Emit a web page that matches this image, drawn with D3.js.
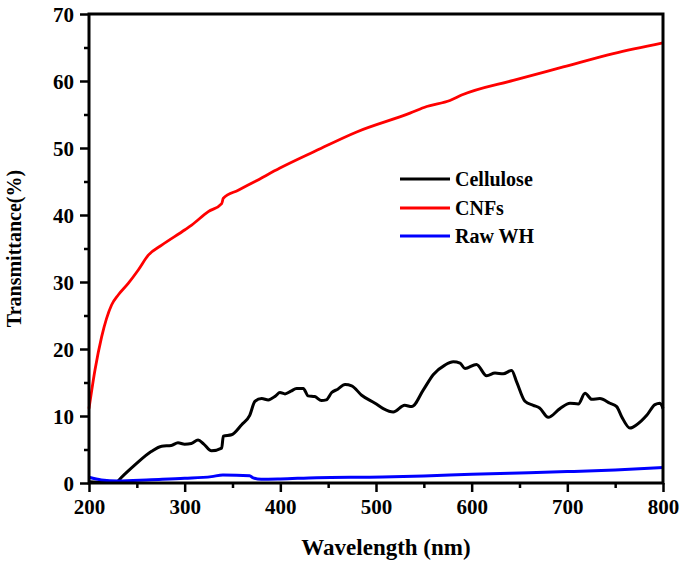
<!DOCTYPE html>
<html>
<head>
<meta charset="utf-8">
<script src="https://cdn.jsdelivr.net/npm/d3@7/dist/d3.min.js"></script>
<style>
  html, body { margin: 0; padding: 0; background: #fff; }
  svg text { font-family: "Liberation Serif", "Times New Roman", serif; font-weight: bold; }
</style>
</head>
<body>
<svg id="chart" width="685" height="561"></svg>
<script>
// ---- data ----
const seriesNames = ["Cellulose", "CNFs", "Raw WH"];
const seriesColors = ["#000000", "#ff0000", "#0000ff"];

const celluloseWl = [200, 215, 228, 235, 248, 265, 276, 286, 293, 300, 307, 314, 320, 328, 338.7, 340.4, 349, 359.6, 368, 373.5, 380.5, 387.4, 395, 399.6, 404.9, 411, 417, 424, 429, 436, 443, 448, 453.7, 460, 467.6, 474.6, 485, 499, 507.6, 518, 530, 537.3, 549.5, 560, 572, 580.8, 587.8, 593, 605, 615.7, 624.4, 633, 641.8, 647, 655.7, 664.4, 671, 680, 692.3, 702.8, 711.5, 718.5, 725.5, 734, 744.6, 751.6, 756.8, 765.5, 772.5, 783, 791.6, 796.8, 800];
const celluloseT  = [0.2, 0.1, 0.1, 1.0, 2.7, 4.7, 5.5, 5.6, 6.0, 5.8, 5.9, 6.4, 5.8, 4.8, 5.2, 7.0, 7.2, 8.7, 10.1, 12.2, 12.6, 12.4, 13.0, 13.5, 13.3, 13.7, 14.1, 14.1, 13.0, 12.9, 12.3, 12.4, 13.5, 14.0, 14.7, 14.5, 13.1, 11.9, 11.1, 10.6, 11.6, 11.4, 13.9, 16.2, 17.6, 18.1, 17.9, 17.1, 17.7, 16.0, 16.4, 16.3, 16.8, 15.1, 12.2, 11.6, 11.2, 9.8, 11.1, 11.9, 11.8, 13.4, 12.5, 12.6, 11.9, 11.4, 9.9, 8.2, 8.7, 10.1, 11.7, 11.9, 11.1];

const cnfWl = [200, 206.3, 213.2, 223.7, 230.7, 241, 251.5, 262, 276, 300.3, 307.3, 324.7, 338.7, 340.4, 356, 373.5, 399.6, 434.5, 479.8, 535.5, 553, 577.3, 589.5, 643.5, 695.8, 748, 800];
const cnfT  = [11.1, 16.9, 21.8, 26.6, 28.1, 29.8, 31.8, 34.0, 35.5, 37.8, 38.5, 40.5, 41.7, 42.5, 43.7, 45.0, 47.0, 49.4, 52.4, 55.2, 56.2, 57.1, 57.9, 60.1, 62.1, 64.1, 65.7];

const rawWl = [200, 213, 230, 265, 300, 328, 340, 368, 371, 380, 400, 438, 507, 550, 600, 650, 700, 750, 800];
const rawT  = [0.85, 0.45, 0.3, 0.5, 0.7, 0.95, 1.2, 1.1, 0.8, 0.55, 0.6, 0.8, 0.9, 1.05, 1.3, 1.5, 1.7, 1.95, 2.3];

const xTicks = [200, 300, 400, 500, 600, 700, 800];
const xMinor = [250, 350, 450, 550, 650, 750];
const yTicks = [0, 10, 20, 30, 40, 50, 60, 70];
const yMinor = [5, 15, 25, 35, 45, 55, 65];

const xLabel = "Wavelength (nm)";
const yLabel = "Transmittance(%)";

// ---- layout ----
const W = 685, H = 561;
const margin = { left: 89, top: 14, right: 22, bottom: 78 };
const svg = d3.select("#chart");

const x = d3.scaleLinear().domain([200, 800]).range([margin.left, W - margin.right]);
const y = d3.scaleLinear().domain([0, 70]).range([H - margin.bottom, margin.top]);

const series = [
  { name: seriesNames[0], color: seriesColors[0], width: 3, pts: celluloseWl.map((d, i) => [d, celluloseT[i]]) },
  { name: seriesNames[1], color: seriesColors[1], width: 2.8, pts: cnfWl.map((d, i) => [d, cnfT[i]]) },
  { name: seriesNames[2], color: seriesColors[2], width: 3, pts: rawWl.map((d, i) => [d, rawT[i]]) }
];

const lineGen = d3.line().x(d => x(d[0])).y(d => y(d[1])).curve(d3.curveMonotoneX);

const plot = svg.append("g");
series.forEach(s => {
  plot.append("path")
    .attr("d", lineGen(s.pts))
    .attr("fill", "none")
    .attr("stroke", s.color)
    .attr("stroke-width", s.width)
    .attr("stroke-linejoin", "round");
});

// ---- axes ----
const axisW = 3;
const xAxis = d3.axisBottom(x).tickValues(xTicks).tickSize(9).tickSizeOuter(0).tickPadding(6);
const xAxisMinor = d3.axisBottom(x).tickValues(xMinor).tickSize(5).tickSizeOuter(0).tickFormat("");
const yAxis = d3.axisLeft(y).tickValues(yTicks).tickSize(9).tickSizeOuter(0).tickPadding(6);
const yAxisMinor = d3.axisLeft(y).tickValues(yMinor).tickSize(5).tickSizeOuter(0).tickFormat("");

function styleAxis(g) {
  g.select(".domain").remove();
  g.selectAll(".tick line").attr("stroke", "#000").attr("stroke-width", 2.5);
  g.selectAll(".tick text").attr("fill", "#000").style("font-size", "21px")
    .style("font-family", "'Liberation Serif', serif").style("font-weight", "bold");
}

svg.append("g").attr("transform", `translate(0,${y(0)})`).call(xAxisMinor).call(styleAxis);
svg.append("g").attr("transform", `translate(0,${y(0)})`).call(xAxis).call(styleAxis)
  .selectAll(".tick text").attr("dy", "0.74em");
svg.append("g").attr("transform", `translate(${x(200)},0)`).call(yAxisMinor).call(styleAxis);
svg.append("g").attr("transform", `translate(${x(200)},0)`).call(yAxis).call(styleAxis)
  .selectAll(".tick text").attr("dy", "0.34em");

// frame
svg.append("rect")
  .attr("x", x(200)).attr("y", y(70))
  .attr("width", x(800) - x(200)).attr("height", y(0) - y(70))
  .attr("fill", "none").attr("stroke", "#000").attr("stroke-width", axisW);

// ---- axis titles ----
svg.append("text")
  .attr("x", (x(200) + x(800)) / 2 + 10).attr("y", 555)
  .attr("text-anchor", "middle")
  .style("font-size", "23px")
  .text(xLabel);

svg.append("text")
  .attr("transform", `translate(21,${(y(0) + y(70)) / 2}) rotate(-90)`)
  .attr("text-anchor", "middle")
  .style("font-size", "20px")
  .text(yLabel);

// ---- legend ----
const legend = svg.append("g");
const legRows = [179, 208, 236];
series.forEach((s, i) => {
  legend.append("line")
    .attr("x1", 400).attr("x2", 450)
    .attr("y1", legRows[i]).attr("y2", legRows[i])
    .attr("stroke", s.color).attr("stroke-width", 3);
  legend.append("text")
    .attr("x", 455).attr("y", legRows[i] + 7)
    .style("font-size", "20px")
    .text(s.name);
});
</script>
</body>
</html>
